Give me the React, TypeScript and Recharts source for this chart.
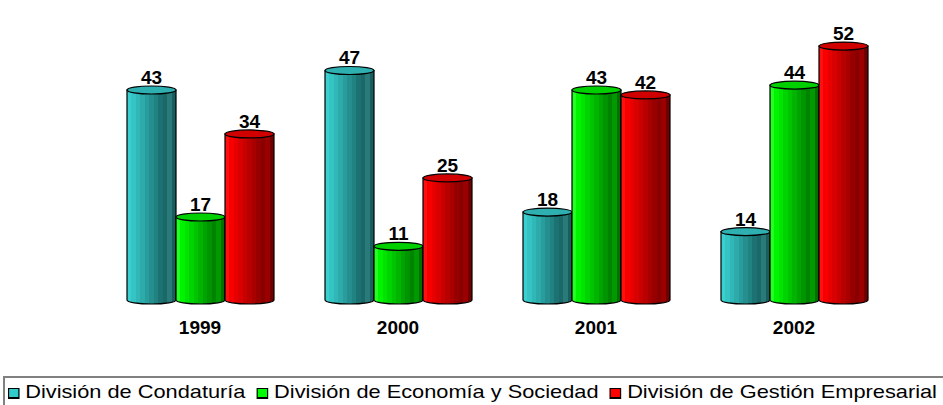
import React from "react";
import { BarChart, Bar, XAxis, YAxis, LabelList } from "recharts";

const years = ["1999", "2000", "2001", "2002"];
const condaturia = [43, 47, 18, 14];
const economia = [17, 11, 43, 44];
const gestion = [34, 25, 42, 52];

const seriesNames = [
  "División de Condaturía",
  "División de Economía y Sociedad",
  "División de Gestión Empresarial",
];

const data = years.map((year, i) => ({
  year,
  condaturia: condaturia[i],
  economia: economia[i],
  gestion: gestion[i],
}));

// stripe shades, light on the left, dark on the right
const palettes: Record<string, { stripes: string[]; top: string; key: string }> = {
  condaturia: {
    stripes: ["#3ad0d0", "#35c4c4", "#31b7b7", "#2daaaa", "#299d9d", "#258f8f", "#218282", "#1c7272", "#1a6868", "#2a7a7a", "#175e5e"],
    top: "#2eb0b0",
    key: "#33cccc",
  },
  economia: {
    stripes: ["#22ff22", "#00f400", "#00e400", "#00d400", "#00c400", "#00b400", "#00a400", "#009400", "#008400", "#009a00", "#007000"],
    top: "#00d000",
    key: "#00ff00",
  },
  gestion: {
    stripes: ["#ff1010", "#f80000", "#e80000", "#d80000", "#c80000", "#b80000", "#a80000", "#980000", "#880000", "#9a0000", "#700000"],
    top: "#d00000",
    key: "#ff0000",
  },
};

const font = "'Liberation Sans', Arial, sans-serif";

function Gradient({ id, stripes }: { id: string; stripes: string[] }) {
  const n = stripes.length;
  return (
    <linearGradient id={id} x1="0" y1="0" x2="1" y2="0">
      {stripes.flatMap((c, i) => [
        <stop key={i + "a"} offset={`${(i / n) * 100}%`} stopColor={c} />,
        <stop key={i + "b"} offset={`${((i + 1) / n) * 100}%`} stopColor={c} />,
      ])}
    </linearGradient>
  );
}

const makeCylinder = (key: string) => (props: any) => {
  const { x, y, width, height } = props;
  if (!height) return null;
  const ry = 4;
  const bottom = y + height;
  const body = `M${x},${y} L${x},${bottom} A${width / 2},${ry} 0 0 0 ${x + width},${bottom} L${x + width},${y} Z`;
  return (
    <g>
      <path d={body} fill={`url(#grad-${key})`} stroke="#000" strokeWidth={1.2} />
      <ellipse cx={x + width / 2} cy={y} rx={width / 2} ry={ry} fill={palettes[key].top} stroke="#000" strokeWidth={1.2} />
    </g>
  );
};

const ValueLabel = (props: any) => {
  const { x, y, width, value } = props;
  return (
    <text x={x + width / 2} y={y - 6} textAnchor="middle" fontFamily={font} fontWeight="bold" fontSize={19} fill="#000">
      {value}
    </text>
  );
};

const YearTick = (props: any) => {
  const { x, payload } = props;
  return (
    <text x={x} y={334} textAnchor="middle" fontFamily={font} fontWeight="bold" fontSize={19} fill="#000">
      {payload.value}
    </text>
  );
};

export default function App() {
  const keys = ["condaturia", "economia", "gestion"];
  return (
    <div style={{ position: "absolute", left: 0, top: 0, width: 943, height: 405, overflow: "hidden", background: "#fff" }}>
      <BarChart
        width={943}
        height={340}
        data={data}
        margin={{ top: 7, right: 50, left: 101, bottom: 0 }}
        barGap={0}
        barSize={49}
      >
        <defs>
          {keys.map((k) => (
            <Gradient key={k} id={`grad-${k}`} stripes={palettes[k].stripes} />
          ))}
        </defs>
        <XAxis dataKey="year" axisLine={false} tickLine={false} height={40} tick={<YearTick />} interval={0} />
        <YAxis hide domain={[0, 60]} />
        {keys.map((k) => (
          <Bar key={k} dataKey={k} shape={makeCylinder(k)} isAnimationActive={false}>
            <LabelList dataKey={k} content={<ValueLabel />} />
          </Bar>
        ))}
      </BarChart>
      <div
        style={{
          position: "absolute",
          left: 3,
          top: 376,
          width: 1000,
          height: 40,
          borderTop: "2px solid #808080",
          borderLeft: "2px solid #808080",
          boxSizing: "border-box",
        }}
      >
        <div
          style={{
            position: "absolute",
            left: 3,
            top: 2,
            display: "flex",
            alignItems: "center",
            fontFamily: font,
            fontSize: 19,
            lineHeight: "23px",
            color: "#000",
            whiteSpace: "nowrap",
            transform: "scaleX(1.146)",
            transformOrigin: "left center",
          }}
        >
          {keys.map((k, i) => (
            <span key={k} style={{ display: "inline-flex", alignItems: "center", marginLeft: i === 0 ? 0 : 10 }}>
              <span
                style={{
                  display: "inline-block",
                  boxSizing: "border-box",
                  width: 10,
                  height: 11,
                  background: palettes[k].key,
                  border: "1px solid #000",
                  borderBottomWidth: 2,
                  marginRight: 5,
                  marginTop: 4,
                }}
              />
              {seriesNames[i]}
            </span>
          ))}
        </div>
      </div>
    </div>
  );
}
